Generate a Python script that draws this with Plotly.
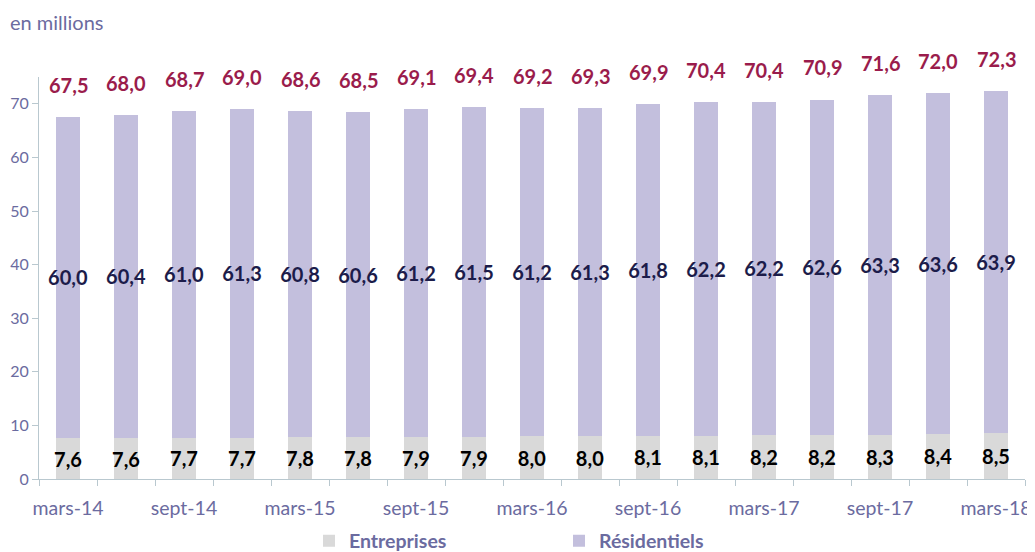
import plotly.graph_objects as go

categories = ["mars-14", "juin-14", "sept-14", "déc-14", "mars-15", "juin-15", "sept-15", "déc-15",
              "mars-16", "juin-16", "sept-16", "déc-16", "mars-17", "juin-17", "sept-17", "déc-17", "mars-18"]
tick_labels = ["mars-14", "", "sept-14", "", "mars-15", "", "sept-15", "", "mars-16", "",
               "sept-16", "", "mars-17", "", "sept-17", "", "mars-18"]
entreprises = [7.6, 7.6, 7.7, 7.7, 7.8, 7.8, 7.9, 7.9, 8.0, 8.0, 8.1, 8.1, 8.2, 8.2, 8.3, 8.4, 8.5]
residentiels = [60.0, 60.4, 61.0, 61.3, 60.8, 60.6, 61.2, 61.5, 61.2, 61.3, 61.8, 62.2, 62.2, 62.6, 63.3, 63.6, 63.9]
totals = [67.5, 68.0, 68.7, 69.0, 68.6, 68.5, 69.1, 69.4, 69.2, 69.3, 69.9, 70.4, 70.4, 70.9, 71.6, 72.0, 72.3]


def fr(v):
    return f"{v:.1f}".replace(".", ",")


FONT = "Lato"
AXIS_COLOR = "#6B6BA0"
LINE_COLOR = "#B9C8CF"

# page body has an 8px margin, so the figure is sized to fit the remaining window
W, H = 1027, 544
ML, MR, MT, MB = 31, 10, 69, 73
PW, PH = W - ML - MR, H - MT - MB

fig = go.Figure()
fig.add_trace(go.Bar(
    x=categories, y=entreprises, name="Entreprises",
    marker=dict(color="#D9D9D9", line=dict(width=0)),
    text=[fr(v) for v in entreprises], textposition="inside", insidetextanchor="middle",
    textangle=0, constraintext="none",
    textfont=dict(family=FONT, size=20, color="#000000", weight="bold"),
    hoverinfo="skip",
))
fig.add_trace(go.Bar(
    x=categories, y=residentiels, name="Résidentiels",
    marker=dict(color="#C3BFDD", line=dict(width=0)),
    text=[fr(v) for v in residentiels], textposition="inside", insidetextanchor="middle",
    textangle=0, constraintext="none",
    textfont=dict(family=FONT, size=20, color="#1C1C4A", weight="bold"),
    hoverinfo="skip",
))

for c, t in zip(categories, totals):
    fig.add_annotation(x=c, y=t, text=fr(t), showarrow=False, yanchor="bottom", yshift=18,
                       font=dict(family=FONT, size=20, color="#9A1C4C", weight="bold"))

fig.add_annotation(xref="paper", yref="paper", x=-ML / PW, y=(MT + PH - 14) / PH, xanchor="left",
                   yanchor="middle", text="en millions", showarrow=False,
                   font=dict(family=FONT, size=20, color=AXIS_COLOR))

fig.update_layout(
    width=W, height=H,
    margin=dict(l=ML, r=MR, t=MT, b=MB),
    barmode="stack", bargap=0.6,
    plot_bgcolor="white", paper_bgcolor="white",
    font=dict(family=FONT, color=AXIS_COLOR),
    showlegend=True,
    legend=dict(orientation="h", traceorder="normal", xref="container", yref="container",
                x=301 / W, xanchor="left", y=1 - 533 / H, yanchor="middle",
                font=dict(family=FONT, size=19.5, color=AXIS_COLOR, weight="bold"),
                entrywidth=205, entrywidthmode="pixels", itemwidth=30, bgcolor="rgba(0,0,0,0)"),
    uniformtext=dict(mode=False),
)
fig.update_xaxes(type="category", tickvals=categories, ticktext=tick_labels, tickson="boundaries",
                 ticks="outside", ticklen=6, tickcolor=LINE_COLOR, showline=True, linecolor=LINE_COLOR,
                 linewidth=1, showgrid=False, tickfont=dict(family=FONT, size=19.5, color=AXIS_COLOR),
                 tickangle=0, automargin=False, ticklabelstandoff=12)
fig.update_yaxes(range=[0, 75], tickvals=[0, 10, 20, 30, 40, 50, 60, 70], ticks="outside", ticklen=6,
                 tickcolor=LINE_COLOR, showline=True, linecolor=LINE_COLOR, linewidth=1, showgrid=False,
                 zeroline=False, tickfont=dict(family=FONT, size=16, color=AXIS_COLOR),
                 automargin=False, ticklabelstandoff=0)

fig.write_html("out.html")
